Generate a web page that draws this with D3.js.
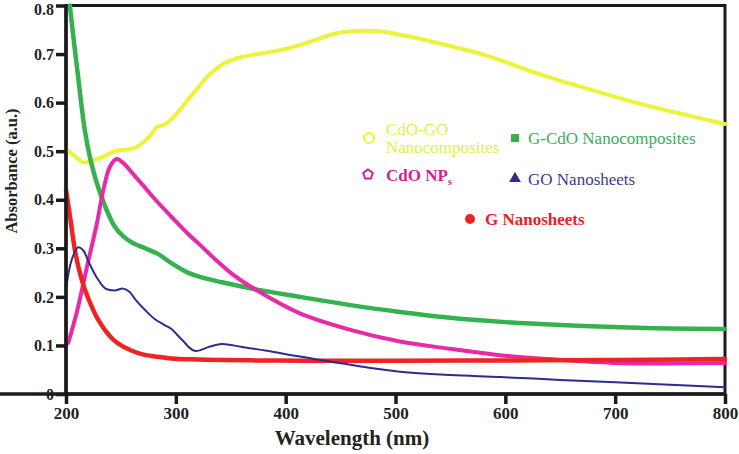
<!DOCTYPE html>
<html><head><meta charset="utf-8">
<script src="https://cdn.jsdelivr.net/npm/d3@7"></script>
<style>body{margin:0;background:#fff}svg{display:block}</style>
</head><body><svg id="c" width="739" height="454"></svg>
<script>
const xTicks = [200,300,400,500,600,700,800];
const yTicks = [0,0.1,0.2,0.3,0.4,0.5,0.6,0.7,0.8];

const cdoGoX = [200,208,216,230,245,263,276,283,290,300,311,320,329,337,345,358,372,390,404,418,432,446,460,471,485,495,515,538,560,580,600,623,646,671,700,726,760,800];
const cdoGoY = [0.505,0.49,0.477,0.485,0.50,0.507,0.53,0.55,0.555,0.575,0.606,0.63,0.654,0.67,0.682,0.693,0.699,0.706,0.713,0.722,0.733,0.743,0.747,0.748,0.747,0.744,0.735,0.723,0.711,0.699,0.684,0.665,0.648,0.631,0.612,0.596,0.577,0.556];

const gcdoX = [203.5,207,211,217,223,232,244,252,260,272,284,297,311,322,342,374,413,459,504,550,600,650,698,750,800];
const gcdoY = [0.80,0.73,0.654,0.545,0.476,0.408,0.346,0.325,0.312,0.30,0.288,0.268,0.25,0.241,0.230,0.215,0.200,0.183,0.169,0.157,0.148,0.142,0.138,0.135,0.134];

const cdoX = [202,210,220,228,234,240,246,252,260,270,281,296,311,322,337,352,374,413,459,504,550,595,638,698,750,800];
const cdoY = [0.105,0.17,0.271,0.35,0.42,0.468,0.484,0.476,0.456,0.43,0.401,0.365,0.330,0.307,0.275,0.246,0.213,0.166,0.132,0.108,0.093,0.080,0.072,0.064,0.063,0.064];

const goX = [200,205,211,216,220,228,236,244,252,258,263,272,281,289,296,302,308,312,317,322,330,342,360,383,413,459,504,550,595,650,700,750,800];
const goY = [0.215,0.275,0.302,0.295,0.275,0.24,0.217,0.213,0.217,0.21,0.195,0.173,0.154,0.143,0.134,0.12,0.106,0.096,0.089,0.09,0.097,0.103,0.097,0.089,0.077,0.060,0.046,0.039,0.035,0.029,0.024,0.019,0.014];

const gX = [200,204,208,212,217,223,229,236,243,251,260,269,282,296,320,342,380,420,500,600,700,760,800];
const gY = [0.421,0.36,0.298,0.255,0.216,0.182,0.154,0.13,0.112,0.099,0.089,0.082,0.077,0.073,0.071,0.070,0.069,0.0685,0.0685,0.069,0.070,0.071,0.072];

const seriesNames = ["CdO-GO Nanocomposites","G-CdO Nanocomposites","CdO NPs","GO Nanosheets","G Nanosheets"];
const seriesColors = ["#eef33a","#35b24d","#e62aa8","#2b2e8c","#ee2424"];
const legendColors = ["#e3ee4e","#3aae5a","#d21f98","#3c3c8e","#e52424"];

const svg = d3.select("#c");
const L=66, R=725, T=5.5, B=394;
const x = d3.scaleLinear().domain([200,800]).range([L,R]);
const y = d3.scaleLinear().domain([0,0.8]).range([B,T]);
const font = "'Liberation Serif','Times New Roman',serif";

svg.append("rect").attr("x",L).attr("y",T).attr("width",R-L).attr("height",B-T)
  .attr("fill","none").attr("stroke","#1a1a1a").attr("stroke-width",3);

const line = d3.line().x(d=>x(d[0])).y(d=>y(d[1])).curve(d3.curveCatmullRom.alpha(0.5));
const series = [
  {x:cdoGoX,y:cdoGoY,w:4},
  {x:gcdoX,y:gcdoY,w:4.5},
  {x:cdoX,y:cdoY,w:4},
  {x:goX,y:goY,w:2},
  {x:gX,y:gY,w:4.5}
];
const g = svg.append("g");
[0,1,2,4,3].forEach(i=>{
  const s=series[i];
  g.append("path").datum(s.x.map((v,j)=>[v,s.y[j]]))
    .attr("d",line).attr("fill","none").attr("stroke",seriesColors[i])
    .attr("stroke-width",s.w).attr("stroke-linecap","round").attr("stroke-linejoin","round");
});

const xa = svg.append("g").attr("transform",`translate(0,${B})`)
  .call(d3.axisBottom(x).tickValues(xTicks).tickSize(10).tickPadding(3).tickFormat(d3.format("d")));
const ya = svg.append("g").attr("transform",`translate(${L},0)`)
  .call(d3.axisLeft(y).tickValues(yTicks).tickSize(10).tickPadding(2).tickFormat(d=>d===0?"0":d3.format(".1f")(d)));
[xa,ya].forEach(a=>{
  a.select(".domain").attr("stroke","#1a1a1a").attr("stroke-width",3.5);
  a.selectAll(".tick line").attr("stroke","#1a1a1a").attr("stroke-width",3.5);
  a.selectAll(".tick text").attr("fill","#222").style("font-family",font).style("font-weight","bold");
});
xa.selectAll(".tick text").style("font-size","17px");
ya.selectAll(".tick text").style("font-size","16px");
ya.selectAll(".tick").filter(d=>d===0.8).select("text").attr("dy","0.55em");
ya.select(".domain").attr("d",`M0,${B}V${T}`);
xa.select(".domain").attr("d",`M0,0H${R}`);

svg.append("text").attr("x",352).attr("y",445).attr("text-anchor","middle")
  .style("font-family",font).style("font-weight","bold").style("font-size","21px").attr("fill","#222")
  .text("Wavelength (nm)");
svg.append("text").attr("transform","translate(17,171) rotate(-90)").attr("text-anchor","middle")
  .style("font-family",font).style("font-weight","bold").style("font-size","16.5px").attr("fill","#222")
  .text("Absorbance (a.u.)");

const lg = svg.append("g").style("font-family",font).style("font-size","17px");
lg.append("circle").attr("cx",369).attr("cy",138).attr("r",5).attr("fill","none").attr("stroke",seriesColors[0]).attr("stroke-width",2.2);
const t0 = lg.append("text").attr("fill",legendColors[0]);
t0.append("tspan").attr("x",386).attr("y",135).text("CdO-GO");
t0.append("tspan").attr("x",386).attr("y",153).text("Nanocomposites");
lg.append("rect").attr("x",511).attr("y",134).attr("width",8).attr("height",8).attr("fill",seriesColors[1]);
lg.append("text").attr("x",528).attr("y",144).attr("fill",legendColors[1]).text(seriesNames[1]);
const pent = d3.range(5).map(k=>{const a=-Math.PI/2+k*2*Math.PI/5;return [368+5*Math.cos(a),174.5+5*Math.sin(a)];});
lg.append("path").attr("d",d3.line()(pent)+"Z").attr("fill","none").attr("stroke",legendColors[2]).attr("stroke-width",2);
const t2 = lg.append("text").attr("x",386).attr("y",181).attr("fill",legendColors[2]).style("font-weight","bold");
t2.append("tspan").text("CdO NP");
t2.append("tspan").attr("dy",4).style("font-size","10px").text("s");
lg.append("path").attr("d",d3.symbol(d3.symbolTriangle,60)()).attr("transform","translate(515,178.5)").attr("fill",seriesColors[3]);
lg.append("text").attr("x",528).attr("y",185).attr("fill",legendColors[3]).text(seriesNames[3]);
lg.append("circle").attr("cx",470).attr("cy",219).attr("r",5).attr("fill",seriesColors[4]);
lg.append("text").attr("x",485).attr("y",225).attr("fill",legendColors[4]).style("font-weight","bold").text(seriesNames[4]);
</script></body></html>
